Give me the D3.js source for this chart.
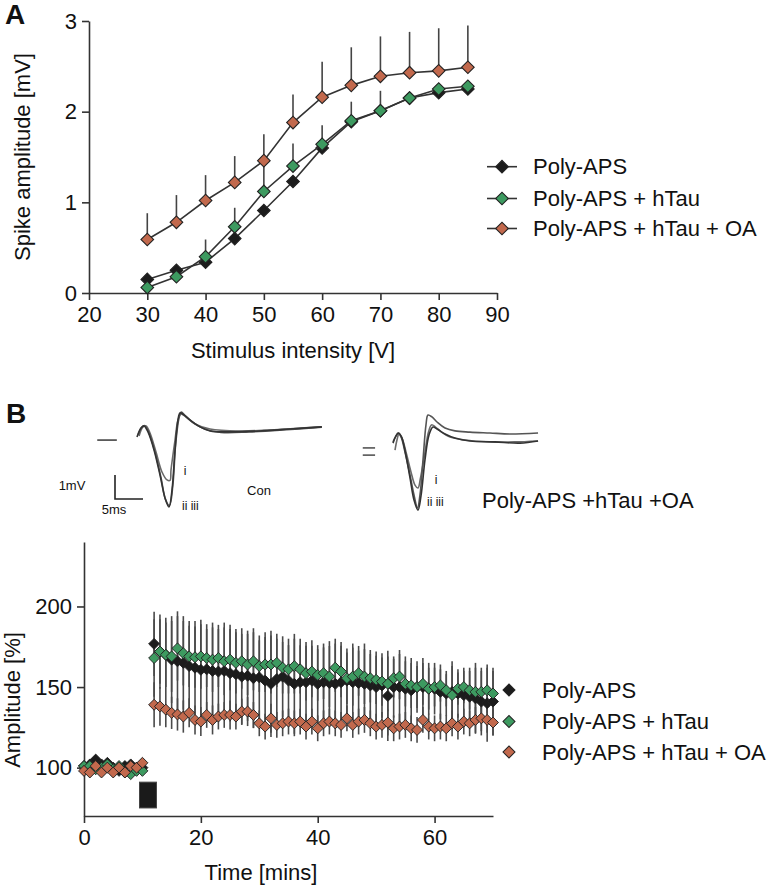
<!DOCTYPE html>
<html><head><meta charset="utf-8">
<script src="https://cdn.jsdelivr.net/npm/d3@7"></script>
<style>
body{margin:0;background:#fff}
svg{display:block}
text{font-family:"Liberation Sans",Arial,Helvetica,sans-serif;fill:#111}
</style>
</head><body>
<svg id="c" width="774" height="885"></svg>
<script>
// ---------------- DATA ----------------
const seriesNames = ["Poly-APS", "Poly-APS + hTau", "Poly-APS + hTau + OA"];
const seriesColors = ["#1c1c1c", "#3d9a60", "#c2694d"];

// Panel A: input/output curves
const stimulusV = [30, 35, 40, 45, 50, 55, 60, 65, 70, 75, 80, 85];
const ampPolyAPS = [0.15, 0.25, 0.34, 0.60, 0.91, 1.23, 1.60, 1.89, 2.01, 2.15, 2.21, 2.25];
const ampHTau    = [0.06, 0.18, 0.40, 0.73, 1.12, 1.40, 1.64, 1.90, 2.01, 2.15, 2.25, 2.28];
const ampHTauOA  = [0.59, 0.78, 1.02, 1.22, 1.46, 1.88, 2.16, 2.29, 2.39, 2.43, 2.45, 2.49];
const errPolyAPS = [0.03, 0.03, 0.03, 0.03, 0.03, 0.03, 0.03, 0.03, 0.03, 0.03, 0.03, 0.03];
const errHTau    = [0.04, 0.04, 0.19, 0.21, 0.28, 0.25, 0.21, 0.21, 0.22, 0.05, 0.04, 0.04];
const errHTauOA  = [0.29, 0.30, 0.28, 0.29, 0.29, 0.31, 0.39, 0.42, 0.44, 0.45, 0.47, 0.46];
const xTicksA = [20, 30, 40, 50, 60, 70, 80, 90];
const yTicksA = [0, 1, 2, 3];

// Panel B: LTP time course (baseline 0-10 min, post-HFS 12-70 min)
const timeBase = [0, 1, 2, 3, 4, 5, 6, 7, 8, 9, 10];
const basePolyAPS = [101, 102, 105, 102, 103, 100, 98, 101, 102, 100, 100];
const baseHTau    = [101, 101, 99, 100, 102, 99, 101, 97, 96, 98, 98];
const baseHTauOA  = [98, 97, 101, 97, 100, 97, 100, 97, 101, 100, 103];
const baseErr     = [2, 2, 2, 2, 2, 2, 2, 2, 2, 2, 2];

const timePost = [12, 13, 14, 15, 16, 17, 18, 19, 20, 21, 22, 23, 24, 25, 26, 27, 28, 29, 30, 31,
  32, 33, 34, 35, 36, 37, 38, 39, 40, 41, 42, 43, 44, 45, 46, 47, 48, 49, 50, 51,
  52, 53, 54, 55, 56, 57, 58, 59, 60, 61, 62, 63, 64, 65, 66, 67, 68, 69, 70];
const postPolyAPS = [176.8, 172, 170, 167, 166, 165, 163, 162, 160.7, 161, 160, 159.6, 160, 158.6, 158, 156.5, 157, 155.5, 156, 154,
  152, 155, 156.5, 154, 152, 153, 153, 154, 152, 153, 152.5, 152, 153, 154, 153, 152.5, 152, 151, 150, 151,
  144.5, 150, 150, 149, 148, 150, 150, 149, 149, 147, 146, 147, 146, 145, 144, 143, 141, 140, 141];
const postHTau = [168, 172, 170, 169, 174, 171, 169, 168.5, 169, 168, 167, 168, 166, 167, 165, 166, 164, 166, 163, 164,
  164, 165, 162, 161, 163, 161, 158.6, 159.6, 157.5, 158.6, 156.5, 162, 159.6, 155.5, 156.5, 158.6, 156.5, 155.5, 154.5, 153.4,
  152, 155.5, 156.5, 152, 151, 150, 152, 149, 150, 151, 148, 145, 149, 150, 148, 147, 147, 148, 146];
const postHTauOA = [139, 138, 136, 134, 133, 131.7, 134, 129.6, 128.6, 132.7, 129.6, 131.7, 132.7, 132.7, 131.7, 134.8, 134.8, 132.7, 127.5, 125.5,
  130.6, 126.5, 127.5, 128.6, 127.5, 128.6, 125.5, 128.6, 124.4, 127.5, 128.6, 127.5, 126.5, 130.6, 126.5, 128.6, 129.6, 127.5, 125.5, 126.5,
  128, 124.4, 125.5, 126.5, 124.4, 123.4, 129.6, 125.5, 124.4, 125.5, 124.4, 127.5, 125.5, 128.6, 127.5, 129.6, 130.6, 129.6, 128];
const errPostPolyAPS = [20, 23, 23, 27, 31, 29, 28, 29, 31, 28, 30, 29, 30, 30, 28, 30, 28, 31, 26, 30,
  33, 28, 25, 26, 31, 27, 25, 25, 24, 24, 26, 28, 25, 20, 24, 23, 25, 22, 22, 20,
  28, 19, 23, 20, 20, 16, 18, 16, 16, 17, 14, 19, 15, 17, 18, 22, 21, 24, 21];
const errPostHTau = [24, 20, 20, 22, 20, 20, 19, 19, 20, 18, 20, 18, 21, 19, 19, 17, 19, 18, 16, 17,
  18, 15, 16, 15, 17, 15, 17, 16, 16, 16, 19, 15, 16, 16, 18, 14, 17, 15, 15, 15,
  17, 12, 14, 14, 14, 13, 13, 13, 12, 10, 10, 18, 10, 10, 12, 15, 13, 14, 14];
const errPostHTauOA = [14, 12, 11, 10, 10, 10, 9, 9, 9, 8, 9, 8, 8, 9, 8, 8, 9, 8, 8, 8,
  9, 8, 8, 8, 8, 8, 8, 8, 8, 8, 8, 8, 8, 8, 8, 8, 8, 8, 8, 8,
  8, 8, 8, 8, 8, 8, 8, 8, 8, 8, 8, 8, 8, 8, 8, 8, 8, 8, 8];
const xTicksB = [0, 20, 40, 60];
const yTicksB = [100, 150, 200];
const hfsMarker = {t0: 9.5, t1: 12.4, lo: 75, hi: 91};   // high-frequency stimulation bar

// Example fEPSP traces  [ms, mV]
const traceConDeep = [[0,-0.29],[0.71,0.08],[1.25,0.17],[1.96,-0.08],[3.04,-0.83],[4.11,-1.88],[5.0,-2.83],[5.71,-3.21],[6.25,-2.5],[6.79,-0.83],[7.32,0.42],[7.68,0.71],[8.39,0.63],[9.46,0.42],[11.25,0.13],[13.04,-0.04],[16.6,-0.08],[22,-0.04],[27.3,0.04],[33,0.13]];
const traceConShallow = [[0.36,-0.25],[1.07,0.13],[1.61,0.17],[2.32,-0.13],[3.39,-0.92],[4.46,-1.75],[5.36,-2.08],[5.9,-2.1],[6.07,-1.67],[6.79,-0.42],[7.32,0.42],[7.86,0.67],[8.75,0.54],[10.36,0.25],[13.04,0.04],[18.4,-0.04],[23.75,0],[33,0.13]];
const traceConMid = [[0.2,-0.2],[0.9,0.12],[1.4,0.18],[2.1,-0.1],[3.2,-0.9],[4.3,-2.0],[5.1,-2.9],[5.8,-3.15],[6.4,-2.3],[6.9,-0.6],[7.5,0.5],[7.9,0.75],[8.6,0.6],[9.8,0.35],[12,0.05],[15,-0.1],[20,-0.08],[26,0],[33,0.12]];
const traceConStim = [[-7.1,-0.42],[-3.6,-0.42]];
const traceOA1 = [[0,-0.08],[0.54,0.17],[0.89,0.29],[1.43,0.13],[2.14,-0.5],[3.04,-1.46],[3.75,-2.29],[4.38,-2.83],[4.82,-2.29],[5.36,-0.83],[5.89,0.63],[6.25,1.04],[6.96,0.96],[7.86,0.75],[9.29,0.5],[11.07,0.38],[13.75,0.33],[17.32,0.29],[20.89,0.25],[25.9,0.29]];
const traceOA2 = [[0.36,-0.42],[0.71,0],[1.07,0.25],[1.61,0.08],[2.32,-0.5],[3.21,-1.33],[3.93,-1.88],[4.46,-2.0],[4.91,-1.58],[5.63,-0.63],[6.34,0.33],[6.88,0.63],[7.59,0.54],[8.66,0.33],[10.07,0.13],[12.77,0],[17.23,-0.08],[21.7,-0.08],[25.9,-0.04]];
const traceOA3 = [[0,-0.13],[0.54,0.17],[0.98,0.29],[1.52,0.13],[2.23,-0.54],[3.04,-1.58],[3.75,-2.5],[4.46,-2.92],[5.0,-2.33],[5.71,-0.83],[6.43,0.21],[7.14,0.54],[7.86,0.46],[9.29,0.25],[11.07,0.08],[13.75,-0.04],[18.21,-0.08],[22.68,-0.13],[25.9,-0.04]];
const traceOAStimA = [[-5.4,-0.33],[-3.2,-0.33]];
const traceOAStimB = [[-5.4,-0.63],[-3.2,-0.63]];
const scaleBarMs = 5, scaleBarMv = 1;

// ---------------- DRAWING ----------------
const svg = d3.select("#c");
const AX = "#333";
const diamond = (area) => d3.symbol(d3.symbolSquare, area);

function styleAxis(g, fs) {
  g.select(".domain").attr("stroke", AX).attr("stroke-width", 1.6);
  g.selectAll(".tick line").attr("stroke", AX).attr("stroke-width", 1.6);
  g.selectAll(".tick text").attr("font-size", fs).attr("fill", "#111")
    .attr("font-family", '"Liberation Sans",Arial,sans-serif');
}

// ===== Panel A =====
const xA = d3.scaleLinear().domain([20, 90]).range([89, 497]);
const yA = d3.scaleLinear().domain([0, 3]).range([293, 21]);
const gA = svg.append("g");
gA.append("g").attr("transform", `translate(0,${yA(0)})`)
  .call(d3.axisBottom(xA).tickValues(xTicksA).tickSize(7).tickSizeOuter(0).tickPadding(6).tickFormat(d3.format("d")))
  .call(g => styleAxis(g, 22));
gA.append("g").attr("transform", `translate(${xA(20)},0)`)
  .call(d3.axisLeft(yA).tickValues(yTicksA).tickSize(7).tickSizeOuter(0).tickPadding(5).tickFormat(d3.format("d")))
  .call(g => styleAxis(g, 22));

gA.append("text").attr("x", 5).attr("y", 24).attr("font-size", 28).attr("font-weight", "bold").attr("fill", "#111").text("A");
gA.append("text").attr("transform", `translate(22,${yA(1.5)})rotate(-90)`).attr("text-anchor", "middle")
  .attr("dy", "0.35em").attr("font-size", 22).text("Spike amplitude [mV]");
gA.append("text").attr("x", 293).attr("y", 350).attr("dy", "0.35em").attr("text-anchor", "middle")
  .attr("font-size", 22).text("Stimulus intensity [V]");

const seriesA = [
  {vals: ampHTauOA, err: errHTauOA, c: seriesColors[2]},
  {vals: ampPolyAPS, err: errPolyAPS, c: seriesColors[0]},
  {vals: ampHTau, err: errHTau, c: seriesColors[1]}
];
seriesA.forEach(s => {
  gA.append("g").selectAll("line").data(stimulusV).join("line")
    .attr("x1", d => xA(d)).attr("x2", d => xA(d))
    .attr("y1", (d, i) => yA(s.vals[i])).attr("y2", (d, i) => yA(s.vals[i] + s.err[i]))
    .attr("stroke", "#444").attr("stroke-width", 1.6);
});
const lineA = d3.line().x(d => xA(d[0])).y(d => yA(d[1]));
seriesA.forEach(s => {
  const pts = stimulusV.map((v, i) => [v, s.vals[i]]);
  gA.append("path").attr("d", lineA(pts)).attr("fill", "none").attr("stroke", "#333").attr("stroke-width", 1.6);
  gA.append("g").selectAll("path").data(pts).join("path")
    .attr("d", diamond(80)).attr("transform", d => `translate(${xA(d[0])},${yA(d[1])})rotate(45)`)
    .attr("fill", s.c).attr("stroke", "#222").attr("stroke-width", 1.1);
});
const legA = [166.7, 198.5, 228.5];
seriesNames.forEach((n, i) => {
  gA.append("line").attr("x1", 487).attr("x2", 517).attr("y1", legA[i]).attr("y2", legA[i]).attr("stroke", "#333").attr("stroke-width", 1.6);
  gA.append("path").attr("d", diamond(80)).attr("transform", `translate(502,${legA[i]})rotate(45)`)
    .attr("fill", seriesColors[i]).attr("stroke", "#222").attr("stroke-width", 1.1);
  gA.append("text").attr("x", 533).attr("y", legA[i]).attr("dy", "0.35em").attr("font-size", 22).text(n);
});

// ===== Traces =====
const gT = svg.append("g");
gT.append("text").attr("x", 6).attr("y", 423).attr("font-size", 28).attr("font-weight", "bold").attr("fill", "#111").text("B");
const txL = d3.scaleLinear().domain([0, 1]).range([137, 137 + 5.6]);
const tyL = d3.scaleLinear().domain([0, 1]).range([430, 430 - 24]);
const txR = d3.scaleLinear().domain([0, 1]).range([393, 393 + 5.6]);
const tyR = d3.scaleLinear().domain([0, 1]).range([440, 440 - 24]);
const lineL = d3.line().x(d => txL(d[0])).y(d => tyL(d[1])).curve(d3.curveCatmullRom);
const lineR = d3.line().x(d => txR(d[0])).y(d => tyR(d[1])).curve(d3.curveCatmullRom);
[[traceConShallow, "#6a6a6a"], [traceConMid, "#555"], [traceConDeep, "#333"], [traceConStim, "#444"]].forEach(([t, c]) =>
  gT.append("path").attr("d", lineL(t)).attr("fill", "none").attr("stroke", c).attr("stroke-width", 1.6));
[[traceOA2, "#6a6a6a"], [traceOA1, "#555"], [traceOA3, "#333"], [traceOAStimA, "#555"], [traceOAStimB, "#555"]].forEach(([t, c]) =>
  gT.append("path").attr("d", lineR(t)).attr("fill", "none").attr("stroke", c).attr("stroke-width", 1.6));
const sbx = d3.scaleLinear().domain([0, 1]).range([115, 115 + 5.6]);
const sby = d3.scaleLinear().domain([0, 1]).range([499, 499 - 24]);
gT.append("path").attr("d", d3.line()([[sbx(0), sby(scaleBarMv)], [sbx(0), sby(0)], [sbx(scaleBarMs), sby(0)]]))
  .attr("fill", "none").attr("stroke", "#222").attr("stroke-width", 1.6);
const smallText = (x, y, s, fs, anchor) => gT.append("text").attr("x", x).attr("y", y).attr("dy", "0.35em")
  .attr("text-anchor", anchor || "start").attr("font-size", fs).attr("fill", "#111").text(s);
smallText(72, 485, "1mV", 13, "middle");
smallText(114, 509, "5ms", 13, "middle");
smallText(185, 471, "i", 12, "middle");
smallText(182, 506, "ii  iii", 12);
smallText(259, 490, "Con", 13, "middle");
smallText(436, 480, "i", 12, "middle");
smallText(427, 502, "ii iii", 12);
smallText(482, 500, "Poly-APS +hTau +OA", 22);

// ===== Panel B =====
const xB = d3.scaleLinear().domain([0, 70]).range([84, 493]);
const yB = d3.scaleLinear().domain([70, 240]).range([816, 542]);
const gB = svg.append("g");
gB.append("g").attr("transform", `translate(0,${yB(70)})`)
  .call(d3.axisBottom(xB).tickValues(xTicksB).tickSize(7).tickSizeOuter(0).tickPadding(6).tickFormat(d3.format("d")))
  .call(g => styleAxis(g, 22));
gB.append("g").attr("transform", `translate(${xB(0)},0)`)
  .call(d3.axisLeft(yB).tickValues(yTicksB).tickSize(7).tickSizeOuter(0).tickPadding(5).tickFormat(d3.format("d")))
  .call(g => styleAxis(g, 22));
gB.append("text").attr("transform", `translate(12,700)rotate(-90)`).attr("text-anchor", "middle")
  .attr("dy", "0.35em").attr("font-size", 22).text("Amplitude [%]");
gB.append("text").attr("x", 261).attr("y", 872).attr("dy", "0.35em").attr("text-anchor", "middle")
  .attr("font-size", 22).text("Time [mins]");

gB.append("rect").attr("x", xB(hfsMarker.t0)).attr("y", yB(hfsMarker.hi))
  .attr("width", xB(hfsMarker.t1) - xB(hfsMarker.t0)).attr("height", yB(hfsMarker.lo) - yB(hfsMarker.hi))
  .attr("fill", "#1a1a1a").attr("stroke", "#444").attr("stroke-width", 1);

const seriesB = [
  {t: timeBase.concat(timePost), v: basePolyAPS.concat(postPolyAPS), e: baseErr.concat(errPostPolyAPS), c: seriesColors[0]},
  {t: timeBase.concat(timePost), v: baseHTau.concat(postHTau), e: baseErr.concat(errPostHTau), c: seriesColors[1]},
  {t: timeBase.concat(timePost), v: baseHTauOA.concat(postHTauOA), e: baseErr.concat(errPostHTauOA), c: seriesColors[2]}
];
seriesB.forEach(s => {
  gB.append("g").selectAll("line").data(s.t).join("line")
    .attr("x1", d => xB(d)).attr("x2", d => xB(d))
    .attr("y1", (d, i) => yB(s.v[i] - s.e[i])).attr("y2", (d, i) => yB(s.v[i] + s.e[i]))
    .attr("stroke", "#4a4a4a").attr("stroke-width", 1.6);
});
seriesB.forEach(s => {
  gB.append("g").selectAll("path").data(s.t).join("path")
    .attr("d", diamond(60)).attr("transform", (d, i) => `translate(${xB(d)},${yB(s.v[i])})rotate(45)`)
    .attr("fill", s.c).attr("stroke", "#222").attr("stroke-width", 0.9);
});
const legB = [690, 721.5, 752];
seriesNames.forEach((n, i) => {
  gB.append("path").attr("d", diamond(72)).attr("transform", `translate(509,${legB[i]})rotate(45)`)
    .attr("fill", seriesColors[i]).attr("stroke", "#222").attr("stroke-width", 1);
  gB.append("text").attr("x", 542).attr("y", legB[i]).attr("dy", "0.35em").attr("font-size", 22).text(n);
});
</script>
</body></html>
